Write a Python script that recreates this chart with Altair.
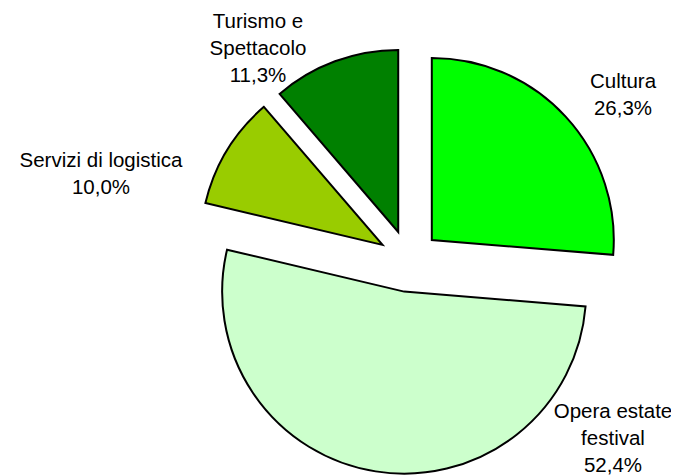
import altair as alt
import pandas as pd

# ---- data ----
categories = ["Cultura", "Opera estate festival", "Servizi di logistica", "Turismo e Spettacolo"]
values = [26.3, 52.4, 10.0, 11.3]
label_names = ["Cultura", "Opera estate\nfestival", "Servizi di logistica", "Turismo e\nSpettacolo"]
colors = ["#00FF00", "#CCFFCC", "#99CC00", "#008000"]

# ---- layout (view coordinates, px) ----
W, H = 663, 467
CX, CY = 401, 253
R = 182
EXPLODE = 31
label_anchor = {
    "Cultura": (615, 80),
    "Opera estate festival": (605, 410),
    "Servizi di logistica": (93, 159),
    "Turismo e Spettacolo": (250, 20),
}

df = pd.DataFrame({
    "category": categories,
    "value": values,
    "order": list(range(len(categories))),
})

labels_df = pd.DataFrame({
    "category": categories,
    "label": [n + "\n" + f"{v:.1f}".replace(".", ",") + "%" for n, v in zip(label_names, values)],
    "lx": [label_anchor[c][0] for c in categories],
    "ly": [label_anchor[c][1] for c in categories],
})

base = (
    alt.Chart(df)
    .transform_joinaggregate(total="sum(value)")
    .transform_window(cum="sum(value)", sort=[alt.SortField("order")], frame=[None, 0])
    .transform_calculate(
        t0="2*PI*(datum.cum - datum.value)/datum.total",
        t1="2*PI*datum.cum/datum.total",
    )
    .transform_calculate(mid="(datum.t0 + datum.t1)/2")
    .transform_calculate(
        cx=f"{CX} + {EXPLODE}*sin(datum.mid)",
        cy=f"{CY} - {EXPLODE}*cos(datum.mid)",
    )
)

arcs = base.mark_arc(radius=R, stroke="black", strokeWidth=2).encode(
    theta=alt.Theta("t0:Q", scale=None),
    theta2="t1:Q",
    x=alt.X("cx:Q", scale=None),
    y=alt.Y("cy:Q", scale=None),
    color=alt.Color("category:N", scale=alt.Scale(domain=categories, range=colors), legend=None),
)

texts = alt.Chart(labels_df).mark_text(
    font="Liberation Sans", fontSize=20.5, color="black", align="center",
    baseline="alphabetic", lineBreak="\n", lineHeight=27,
).encode(
    x=alt.X("lx:Q", scale=None),
    y=alt.Y("ly:Q", scale=None),
    text="label:N",
)

chart = (
    alt.layer(arcs, texts)
    .properties(width=W, height=H, padding=0, autosize=alt.AutoSizeParams(type="none"))
    .configure_view(stroke=None)
)

chart.save("out.html", embed_options={"renderer": "svg", "actions": False})
